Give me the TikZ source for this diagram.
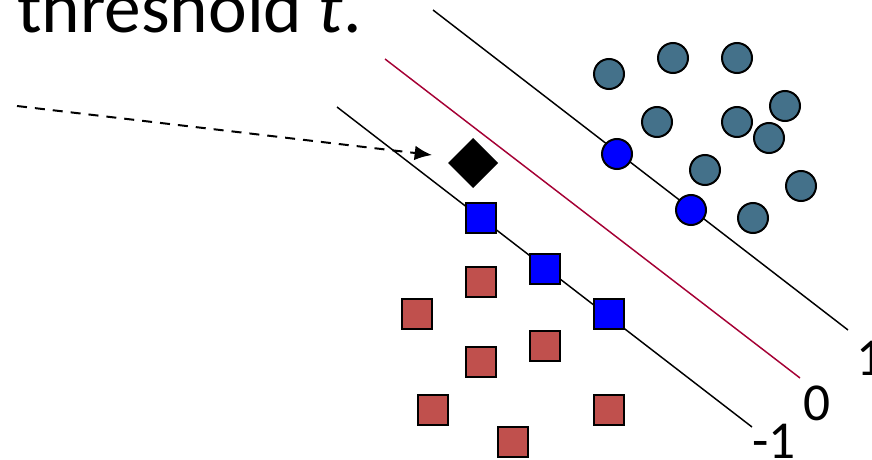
\documentclass[tikz,border=0pt]{standalone}
\usepackage{fontspec}
\setmainfont{Carlito}
\usetikzlibrary{shapes.geometric,arrows.meta}

\definecolor{posteal}{HTML}{44718A}
\definecolor{negred}{HTML}{C0504D}
\definecolor{svblue}{HTML}{0000FF}
\definecolor{hypred}{HTML}{A50034}

\begin{document}
\begin{tikzpicture}[x=0.75pt,y=-0.75pt,>={Latex[length=13pt,width=11pt]}]
              \tikzstyle{every node}=[draw,line width=1.5pt,inner sep=0pt];
              \tikzstyle{posdot}=[circle,minimum size=22.5pt,fill=posteal];
              \tikzstyle{negbox}=[rectangle,minimum size=23pt,fill=negred];
              \tikzstyle{svdot}=[posdot,fill=svblue];
              \tikzstyle{svbox}=[negbox,fill=svblue];
              \tikzstyle{lab}=[draw=none,anchor=base,font=\fontsize{40}{40}\selectfont];
              \tikzstyle{margin}=[line width=1.1pt];

                \clip (0,0) rectangle (872,460);

                % text
                \path (16,33) node[draw=none,anchor=base west,font=\fontsize{55}{55}\selectfont] (title) {threshold \textit{t}.};

                % lines
                \coordinate (p1) at (433,10);   \coordinate (q1) at (848,330);
                \coordinate (p0) at (385,59);   \coordinate (q0) at (800,378);
                \coordinate (pm) at (337,107);  \coordinate (qm) at (752,427);
                \path[-,draw,margin] (p1) -- (q1);
                \path[-,draw,margin,hypred] (p0) -- (q0);
                \path[-,draw,margin] (pm) -- (qm);
                \path (870,375) node[lab] (l1) {1};
                \path (817,420) node[lab] (l0) {0};
                \path (774,458) node[lab] (lm) {-1};

                % positive points
                \path (609,74)  node[posdot] (c1) {};
                \path (673,58)  node[posdot] (c2) {};
                \path (737,58)  node[posdot] (c3) {};
                \path (785,106) node[posdot] (c4) {};
                \path (657,122) node[posdot] (c5) {};
                \path (737,122) node[posdot] (c6) {};
                \path (769,138) node[posdot] (c7) {};
                \path (705,170) node[posdot] (c8) {};
                \path (801,186) node[posdot] (c9) {};
                \path (753,218) node[posdot] (c10) {};
                \path (617,154) node[svdot] (sc1) {};
                \path (691,210) node[svdot] (sc2) {};

                % negative points
                \path (481,282) node[negbox] (s1) {};
                \path (417,314) node[negbox] (s2) {};
                \path (545,346) node[negbox] (s3) {};
                \path (481,362) node[negbox] (s4) {};
                \path (433,410) node[negbox] (s5) {};
                \path (609,410) node[negbox] (s6) {};
                \path (513,442) node[negbox] (s7) {};
                \path (481,218) node[svbox] (ss1) {};
                \path (545,269) node[svbox] (ss2) {};
                \path (609,314) node[svbox] (ss3) {};

                % query point
                \path (473,163) node[diamond,fill,minimum size=36pt] (x) {};
                \coordinate (src) at (17,106);
                \coordinate (tip) at (432,155);
                \path[->,draw,line width=1.5pt,dash pattern=on 7.5pt off 6pt] (src) -- (tip);
            \end{tikzpicture}
\end{document}
